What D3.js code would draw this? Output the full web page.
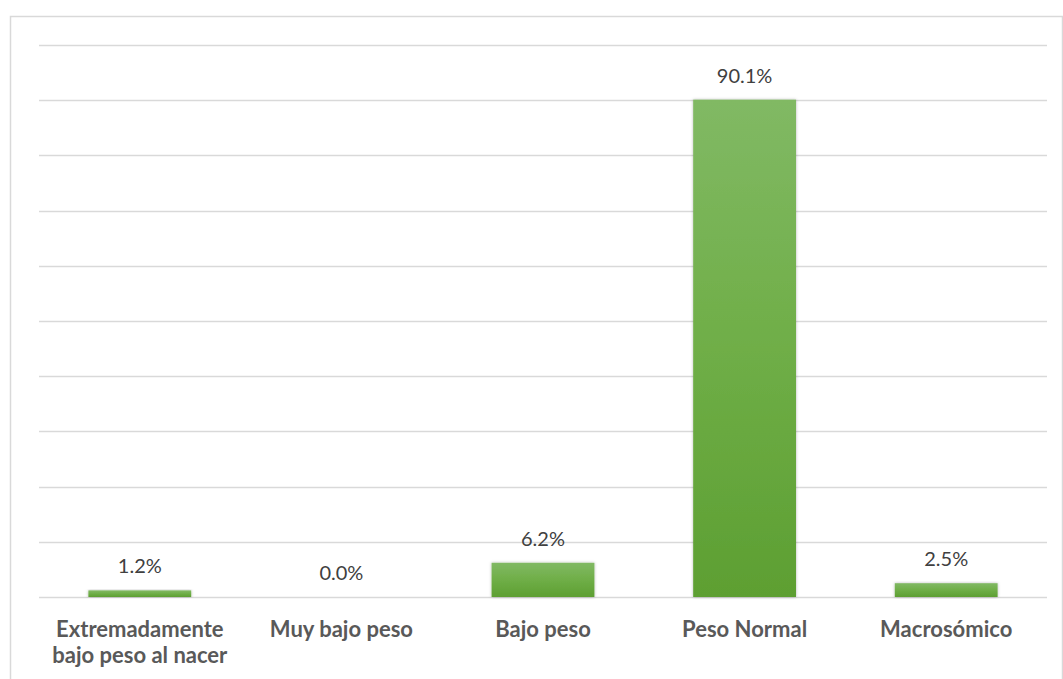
<!DOCTYPE html>
<html>
<head>
<meta charset="utf-8">
<script src="https://cdn.jsdelivr.net/npm/d3@7"></script>
<style>
  html, body { margin: 0; padding: 0; background: #fff; }
  svg { display: block; }
</style>
</head>
<body>
<svg id="chart" width="1063" height="679"></svg>
<script>
// Birth-weight categories and their share of births (%)
const categories = [
  ["Extremadamente", "bajo peso al nacer"],
  ["Muy bajo peso"],
  ["Bajo peso"],
  ["Peso Normal"],
  ["Macrosómico"]
];
const values = [1.2, 0.0, 6.2, 90.1, 2.5];
const gridTicks = [0, 10, 20, 30, 40, 50, 60, 70, 80, 90, 100];

const W = 1063, H = 679;
const margin = { left: 39, right: 16, top: 45, bottom: 82 };
const svg = d3.select("#chart");

// Chart frame
svg.append("rect")
  .attr("x", 10.5).attr("y", 16.5)
  .attr("width", W - 11).attr("height", H)
  .attr("fill", "#fff").attr("stroke", "#d9d9d9").attr("stroke-width", 1.5);

const x = d3.scaleBand()
  .domain(d3.range(values.length))
  .range([margin.left, W - margin.right])
  .paddingInner(0.49).paddingOuter(0.245);

const y = d3.scaleLinear()
  .domain([0, 100])
  .range([H - margin.bottom, margin.top]);

const defs = svg.append("defs");
const grad = defs.append("linearGradient")
  .attr("id", "barFill").attr("x1", 0).attr("y1", 0).attr("x2", 0).attr("y2", 1);
grad.append("stop").attr("offset", "0%").attr("stop-color", "#81b964");
grad.append("stop").attr("offset", "50%").attr("stop-color", "#6fae47");
grad.append("stop").attr("offset", "100%").attr("stop-color", "#5d9f32");

const shadow = defs.append("filter").attr("id", "soft")
  .attr("x", "-10%").attr("y", "-10%").attr("width", "120%").attr("height", "120%");
shadow.append("feDropShadow")
  .attr("dx", 0).attr("dy", 0).attr("stdDeviation", 1.6)
  .attr("flood-color", "#000").attr("flood-opacity", 0.28);

// Horizontal gridlines
svg.append("g")
  .selectAll("line")
  .data(gridTicks)
  .join("line")
  .attr("x1", margin.left).attr("x2", W - margin.right)
  .attr("y1", d => Math.round(y(d)) + 0.5).attr("y2", d => Math.round(y(d)) + 0.5)
  .attr("stroke", "#d9d9d9").attr("stroke-width", 1.5);

// Bars
svg.append("g")
  .selectAll("rect")
  .data(values)
  .join("rect")
  .attr("x", (d, i) => x(i))
  .attr("width", x.bandwidth())
  .attr("y", d => y(d))
  .attr("height", d => y(0) - y(d))
  .attr("fill", "url(#barFill)")
  .attr("filter", "url(#soft)");

// Value labels
svg.append("g")
  .selectAll("text")
  .data(values)
  .join("text")
  .attr("x", (d, i) => x(i) + x.bandwidth() / 2)
  .attr("y", d => y(d) - 17)
  .attr("text-anchor", "middle")
  .attr("font-family", "Lato, 'Open Sans', sans-serif")
  .attr("font-size", 20)
  .attr("fill", "#404040")
  .text(d => d.toFixed(1) + "%");

// Category labels
const catG = svg.append("g")
  .selectAll("text")
  .data(categories)
  .join("text")
  .attr("x", (d, i) => x(i) + x.bandwidth() / 2)
  .attr("y", 637)
  .attr("text-anchor", "middle")
  .attr("font-family", "Lato, 'Open Sans', sans-serif")
  .attr("font-weight", "bold")
  .attr("font-size", 22)
  .attr("fill", "#595959");
catG.selectAll("tspan")
  .data(d => d)
  .join("tspan")
  .attr("x", function () { return d3.select(this.parentNode).attr("x"); })
  .attr("dy", (d, i) => i === 0 ? 0 : 26)
  .text(d => d);
</script>
</body>
</html>
